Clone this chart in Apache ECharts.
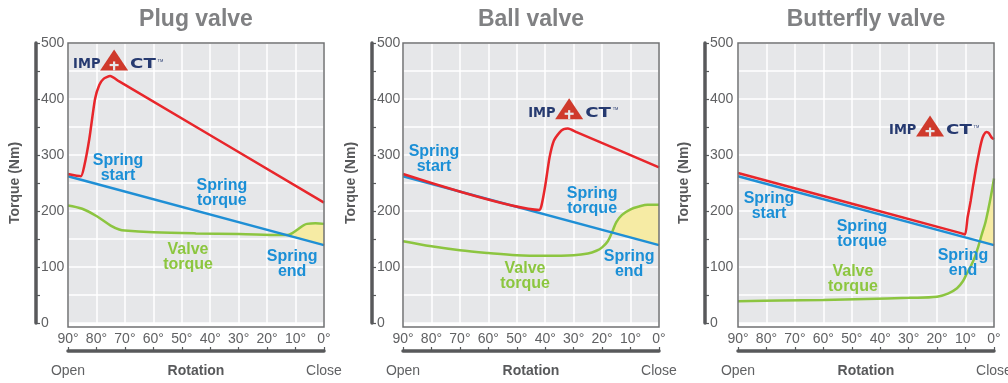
<!DOCTYPE html>
<html>
<head>
<meta charset="utf-8">
<script src="https://cdn.jsdelivr.net/npm/echarts@6/dist/echarts.min.js"></script>
<style>
  html, body { margin: 0; padding: 0; background: #ffffff; }
  #chart { width: 1008px; height: 383px; }
</style>
</head>
<body>
<div id="chart"></div>
<script>
// ---- Data -----------------------------------------------------------
// Rotation runs from 90° (open) to 0° (closed); torque in Nm.
const panelTitles = ['Plug valve', 'Ball valve', 'Butterfly valve'];
const angleRange = [0, 90];
const torqueRange = [0, 500];

// Spring return torque: value at 90° (spring start) and at 0° (spring end)
const springTorque = [[90, 262], [0, 139]];

// Plug valve: actuator output (with IMPACT boost) and valve demand
const plugActuator = [[90, 266], [85.5, 262], [84.3, 280], [82.5, 329], [80.5, 400], [79, 425], [77.5, 436], [75.2, 441], [72, 431.4], [0, 215]];
const plugValve = [[90, 210], [85, 204], [80, 191], [75, 174], [72, 167], [70, 165], [60, 162], [45, 160], [30, 159], [15, 157], [13, 157], [11, 161], [9, 168], [7, 175], [6, 177], [3, 178], [0, 177]];

// Ball valve
const ballActuator = [[90, 266], [42, 202], [41.3, 210], [40, 245], [38.5, 295], [37, 325], [35, 340], [33.5, 346], [32, 347.5], [29, 341], [0, 278]];
const ballValve = [[90, 146], [80, 137], [70, 130], [60, 125], [50, 121], [40, 120], [30, 121], [25, 124], [22, 129], [20, 135], [18, 146], [16.5, 162], [15, 180], [13, 193], [10, 203], [7, 208], [4, 211], [0, 211]];

// Butterfly valve
const butterflyActuator = [[90, 268], [12, 161], [10.2, 158], [9.3, 188], [8.2, 218], [7.3, 247], [6.2, 280], [5.2, 306], [4.3, 326], [3.6, 336], [2.6, 341], [1.8, 339], [0.8, 331], [0, 328]];
const butterflyValve = [[90, 39], [75, 40], [60, 41], [45, 43], [30, 45], [20, 47], [16, 53], [13, 62], [11, 74], [9.5, 89], [8, 103], [6.7, 118], [5.5, 137], [4.3, 158], [3, 180], [2, 203], [1, 229], [0, 258]];

// ---- Layout & styling ----------------------------------------------
const FONT = '"Liberation Sans", Arial, Helvetica, sans-serif';
const LOGO_FONT = '"DejaVu Sans", Verdana, sans-serif';
const C = {
  red: '#e8262b', blue: '#1f8fd5', green: '#8cc540', fill: '#f6eba4',
  plot: '#e6e7e9', grid: '#ffffff', axis: '#58595b', tickText: '#606163',
  title: '#808183', border: '#707173', labelBlue: '#1b8fd6', labelGreen: '#8cc63f',
  navy: '#263a70', logoRed: '#cf3a2c'
};
const GRID_TOP = 43, GRID_W = 256, GRID_H = 284;

const panels = [
  { left: 68,  yOffset: 32, actuator: plugActuator, valve: plugValve,
    labels: { start: [72.4, 276], torque: [35.9, 232], valveT: [47.8, 118], end: [11.2, 106] },
    logo: [88.2, 451] },
  { left: 403, yOffset: 31, actuator: ballActuator, valve: ballValve,
    labels: { start: [79.1, 292], torque: [23.5, 218], valveT: [47.1, 83], end: [10.5, 106] },
    logo: [46, 364] },
  { left: 738, yOffset: 33, actuator: butterflyActuator, valve: butterflyValve,
    labels: { start: [79.1, 208], torque: [46.4, 158], valveT: [49.6, 79], end: [10.9, 107] },
    logo: [36.9, 333] }
];

// Region where the valve needs more than the spring delivers
function shortfallPolygon(valve, spring) {
  const [[d90, v90], [d0, v0]] = spring;
  const springAt = d => v0 + (v90 - v0) * (d - d0) / (d90 - d0);
  const pts = [];
  for (let k = 1; k < valve.length; k++) {
    const [da, va] = valve[k - 1], [db, vb] = valve[k];
    const ea = va - springAt(da), eb = vb - springAt(db);
    if (ea <= 0 && eb > 0) {
      const t = ea / (ea - eb);
      const dc = da + (db - da) * t;
      pts.push([dc, springAt(dc)]);
    }
    if (eb > 0) pts.push([db, vb]);
  }
  pts.push([0, springAt(0)]);
  return pts;
}

const grids = [], xAxes = [], yAxes = [], series = [];
panels.forEach((p, i) => {
  grids.push({ left: p.left, top: GRID_TOP, width: GRID_W, height: GRID_H,
    show: true, backgroundColor: C.plot, borderWidth: 0 });

  xAxes.push({
    gridIndex: i, type: 'value', min: angleRange[0], max: angleRange[1], interval: 10,
    inverse: true, position: 'bottom', offset: 28,
    name: 'Rotation', nameLocation: 'middle', nameGap: 13,
    nameTextStyle: { fontFamily: FONT, fontWeight: 'bold', fontSize: 14, color: C.axis },
    axisLine: { show: true, onZero: false, lineStyle: { color: C.axis, width: 3.5 } },
    axisTick: { show: true, inside: true, length: 4, lineStyle: { color: C.axis, width: 1.2 } },
    axisLabel: { inside: true, margin: 5, formatter: '{value}°', fontFamily: FONT, fontSize: 14, color: C.tickText },
    splitLine: { show: true, lineStyle: { color: C.grid, width: 1.5 } }
  });

  yAxes.push({
    gridIndex: i, type: 'value', min: torqueRange[0], max: torqueRange[1], interval: 50,
    position: 'left', offset: p.yOffset,
    name: 'Torque (Nm)', nameLocation: 'middle', nameRotate: 90, nameGap: 14,
    nameTextStyle: { fontFamily: FONT, fontWeight: 'bold', fontSize: 14, color: C.axis },
    axisLine: { show: true, onZero: false, lineStyle: { color: C.axis, width: 3.5 } },
    axisTick: { show: true, inside: true, length: 4, lineStyle: { color: C.axis, width: 1.2 } },
    axisLabel: { inside: true, margin: 5, formatter: v => (v % 100 === 0 ? String(v) : ''),
      fontFamily: FONT, fontSize: 14, color: C.tickText },
    splitLine: { show: true, lineStyle: { color: C.grid, width: 1.5 } }
  });

  const poly = shortfallPolygon(p.valve, springTorque);
  series.push({
    type: 'custom', xAxisIndex: i, yAxisIndex: i, clip: true, z: 2, silent: true,
    data: [[0, 0]],
    renderItem: (params, api) => ({
      type: 'polygon',
      shape: { points: poly.map(pt => api.coord(pt)) },
      style: { fill: C.fill }
    })
  });
  series.push({ type: 'line', xAxisIndex: i, yAxisIndex: i, data: p.valve, symbol: 'none',
    smooth: 0.35, z: 3, lineStyle: { color: C.green, width: 2.5 } });
  series.push({ type: 'line', xAxisIndex: i, yAxisIndex: i, data: springTorque, symbol: 'none',
    z: 4, lineStyle: { color: C.blue, width: 2.5 } });
  series.push({ type: 'line', xAxisIndex: i, yAxisIndex: i, data: p.actuator, symbol: 'none',
    smooth: 0.2, z: 5, lineStyle: { color: C.red, width: 2.5 } });
});

const chart = echarts.init(document.getElementById('chart'), null, { renderer: 'canvas' });
chart.setOption({
  animation: false,
  grid: grids, xAxis: xAxes, yAxis: yAxes, series: series
});

// ---- Titles, annotations, logo and plot frames ---------------------
function txt(text, x, y, font, color, extra) {
  return Object.assign({
    type: 'text', z: 20, silent: true,
    style: { text: text, x: x, y: y, font: font, fill: color,
      align: 'center', textAlign: 'center', verticalAlign: 'middle', textVerticalAlign: 'middle',
      lineHeight: 15 }
  }, extra || {});
}

function logo(x, y) {
  const bg = C.plot;
  const letter = (t, x0, sx) => ({
    type: 'text', x: x0, y: 1, scaleX: sx,
    style: { text: t, x: 0, y: 0, font: 'bold 14px ' + LOGO_FONT, fill: C.navy,
      align: 'left', textAlign: 'left', verticalAlign: 'bottom', textVerticalAlign: 'bottom' }
  });
  return {
    type: 'group', x: x, y: y, z: 20, silent: true,
    children: [
      letter('IMP', 0, 0.93),
      { type: 'polygon', shape: { points: [[41, -21], [27, 0], [55, 0]] }, style: { fill: C.logoRed } },
      { type: 'rect', shape: { x: 36.5, y: -6.5, width: 9, height: 2.2 }, style: { fill: bg } },
      { type: 'rect', shape: { x: 39.9, y: -9, width: 2.2, height: 9 }, style: { fill: bg } },
      letter('CT', 57, 1.3),
      { type: 'text', style: { text: 'TM', x: 84.5, y: -8, font: '4px ' + FONT, fill: C.navy,
          align: 'left', textAlign: 'left', verticalAlign: 'bottom', textVerticalAlign: 'bottom' } }
    ]
  };
}

const graphics = [];
panels.forEach((p, i) => {
  const at = pt => chart.convertToPixel({ gridIndex: i }, pt);
  const cx = p.left + GRID_W / 2;
  graphics.push(txt(panelTitles[i], cx, 20, 'bold 23px ' + FONT, C.title));

  graphics.push({ type: 'rect', z: 15, silent: true,
    shape: { x: p.left, y: GRID_TOP, width: GRID_W, height: GRID_H },
    style: { fill: 'none', stroke: C.border, lineWidth: 1.5 } });

  const openPos = at([90, 0]), closePos = at([0, 0]);
  graphics.push(txt('Open', openPos[0], 371, '14px ' + FONT, C.tickText));
  graphics.push(txt('Close', closePos[0], 371, '14px ' + FONT, C.tickText));

  const L = p.labels, f = 'bold 16px ' + FONT;
  let q = at(L.start);  graphics.push(txt('Spring\nstart', q[0], q[1], f, C.labelBlue));
  q = at(L.torque);     graphics.push(txt('Spring\ntorque', q[0], q[1], f, C.labelBlue));
  q = at(L.valveT);     graphics.push(txt('Valve\ntorque', q[0], q[1], f, C.labelGreen));
  q = at(L.end);        graphics.push(txt('Spring\nend', q[0], q[1], f, C.labelBlue));

  q = at(p.logo);
  graphics.push(logo(q[0], q[1]));
});
chart.setOption({ graphic: graphics });
</script>
</body>
</html>
